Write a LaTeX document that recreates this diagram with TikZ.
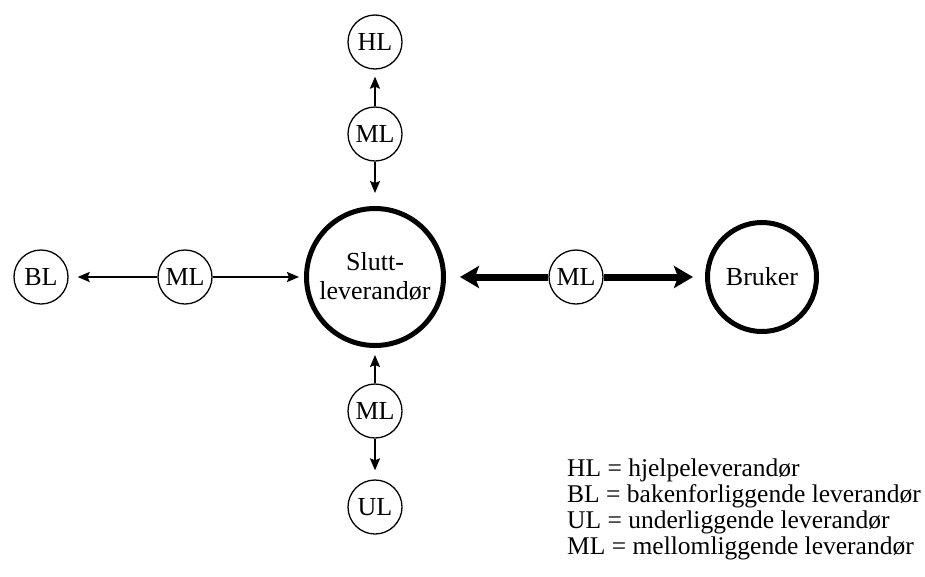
\documentclass[tikz,border=0pt]{standalone}
\usepackage{fontspec}
\setmainfont{Liberation Serif}
\usetikzlibrary{arrows.meta}
\begin{document}
\begin{tikzpicture}[x=1pt,y=-1pt,
  every node/.style={font=\fontsize{26}{29}\selectfont},
  small/.style={circle,draw,line width=1.3pt,minimum size=54pt,inner sep=0pt},
  big/.style={circle,draw,line width=5pt,inner sep=0pt,align=center},
  thin/.style={line width=2pt,-{Stealth[length=12pt,width=10pt,inset=2pt]}},
  thick/.style={line width=7pt,-{Stealth[length=19pt,width=22pt,inset=4pt]}}]
  \useasboundingbox (0,0) rectangle (925,576);

  % main parties
  \node[big,minimum size=137pt] (slutt) at (375,277) {Slutt-\\leverandør};
  \node[big,minimum size=109pt] (bruker) at (762,277) {Bruker};

  % surrounding suppliers
  \node[small] (hl)  at (375,42)  {HL};
  \node[small] (mlt) at (375,134) {ML};
  \node[small] (bl)  at (41,277)  {BL};
  \node[small] (mll) at (185,277) {ML};
  \node[small] (mlr) at (576,277) {ML};
  \node[small] (mlb) at (375,411) {ML};
  \node[small] (ul)  at (375,507) {UL};

  % links through the intermediate suppliers
  \draw[thin,shorten >=7pt]  (mlt) -- (hl);
  \draw[thin,shorten >=13pt] (mlt) -- (slutt);
  \draw[thin,shorten >=9pt]  (mll) -- (bl);
  \draw[thin,shorten >=5pt]  (mll) -- (slutt);
  \draw[thin,shorten >=7pt]  (mlb) -- (slutt);
  \draw[thin,shorten >=9pt]  (mlb) -- (ul);
  \draw[thick,shorten >=14pt] (mlr.west) -- (slutt);
  \draw[thick,shorten >=12pt] (mlr.east) -- (bruker);

  % legend
  \node[anchor=north west,align=left,inner sep=0pt,
        font=\fontsize{25.5}{26}\selectfont] (legend) at (567,459)
    {HL = hjelpeleverandør\\
     BL = bakenforliggende leverandør\\
     UL = underliggende leverandør\\
     ML = mellomliggende leverandør};
\end{tikzpicture}
\end{document}
